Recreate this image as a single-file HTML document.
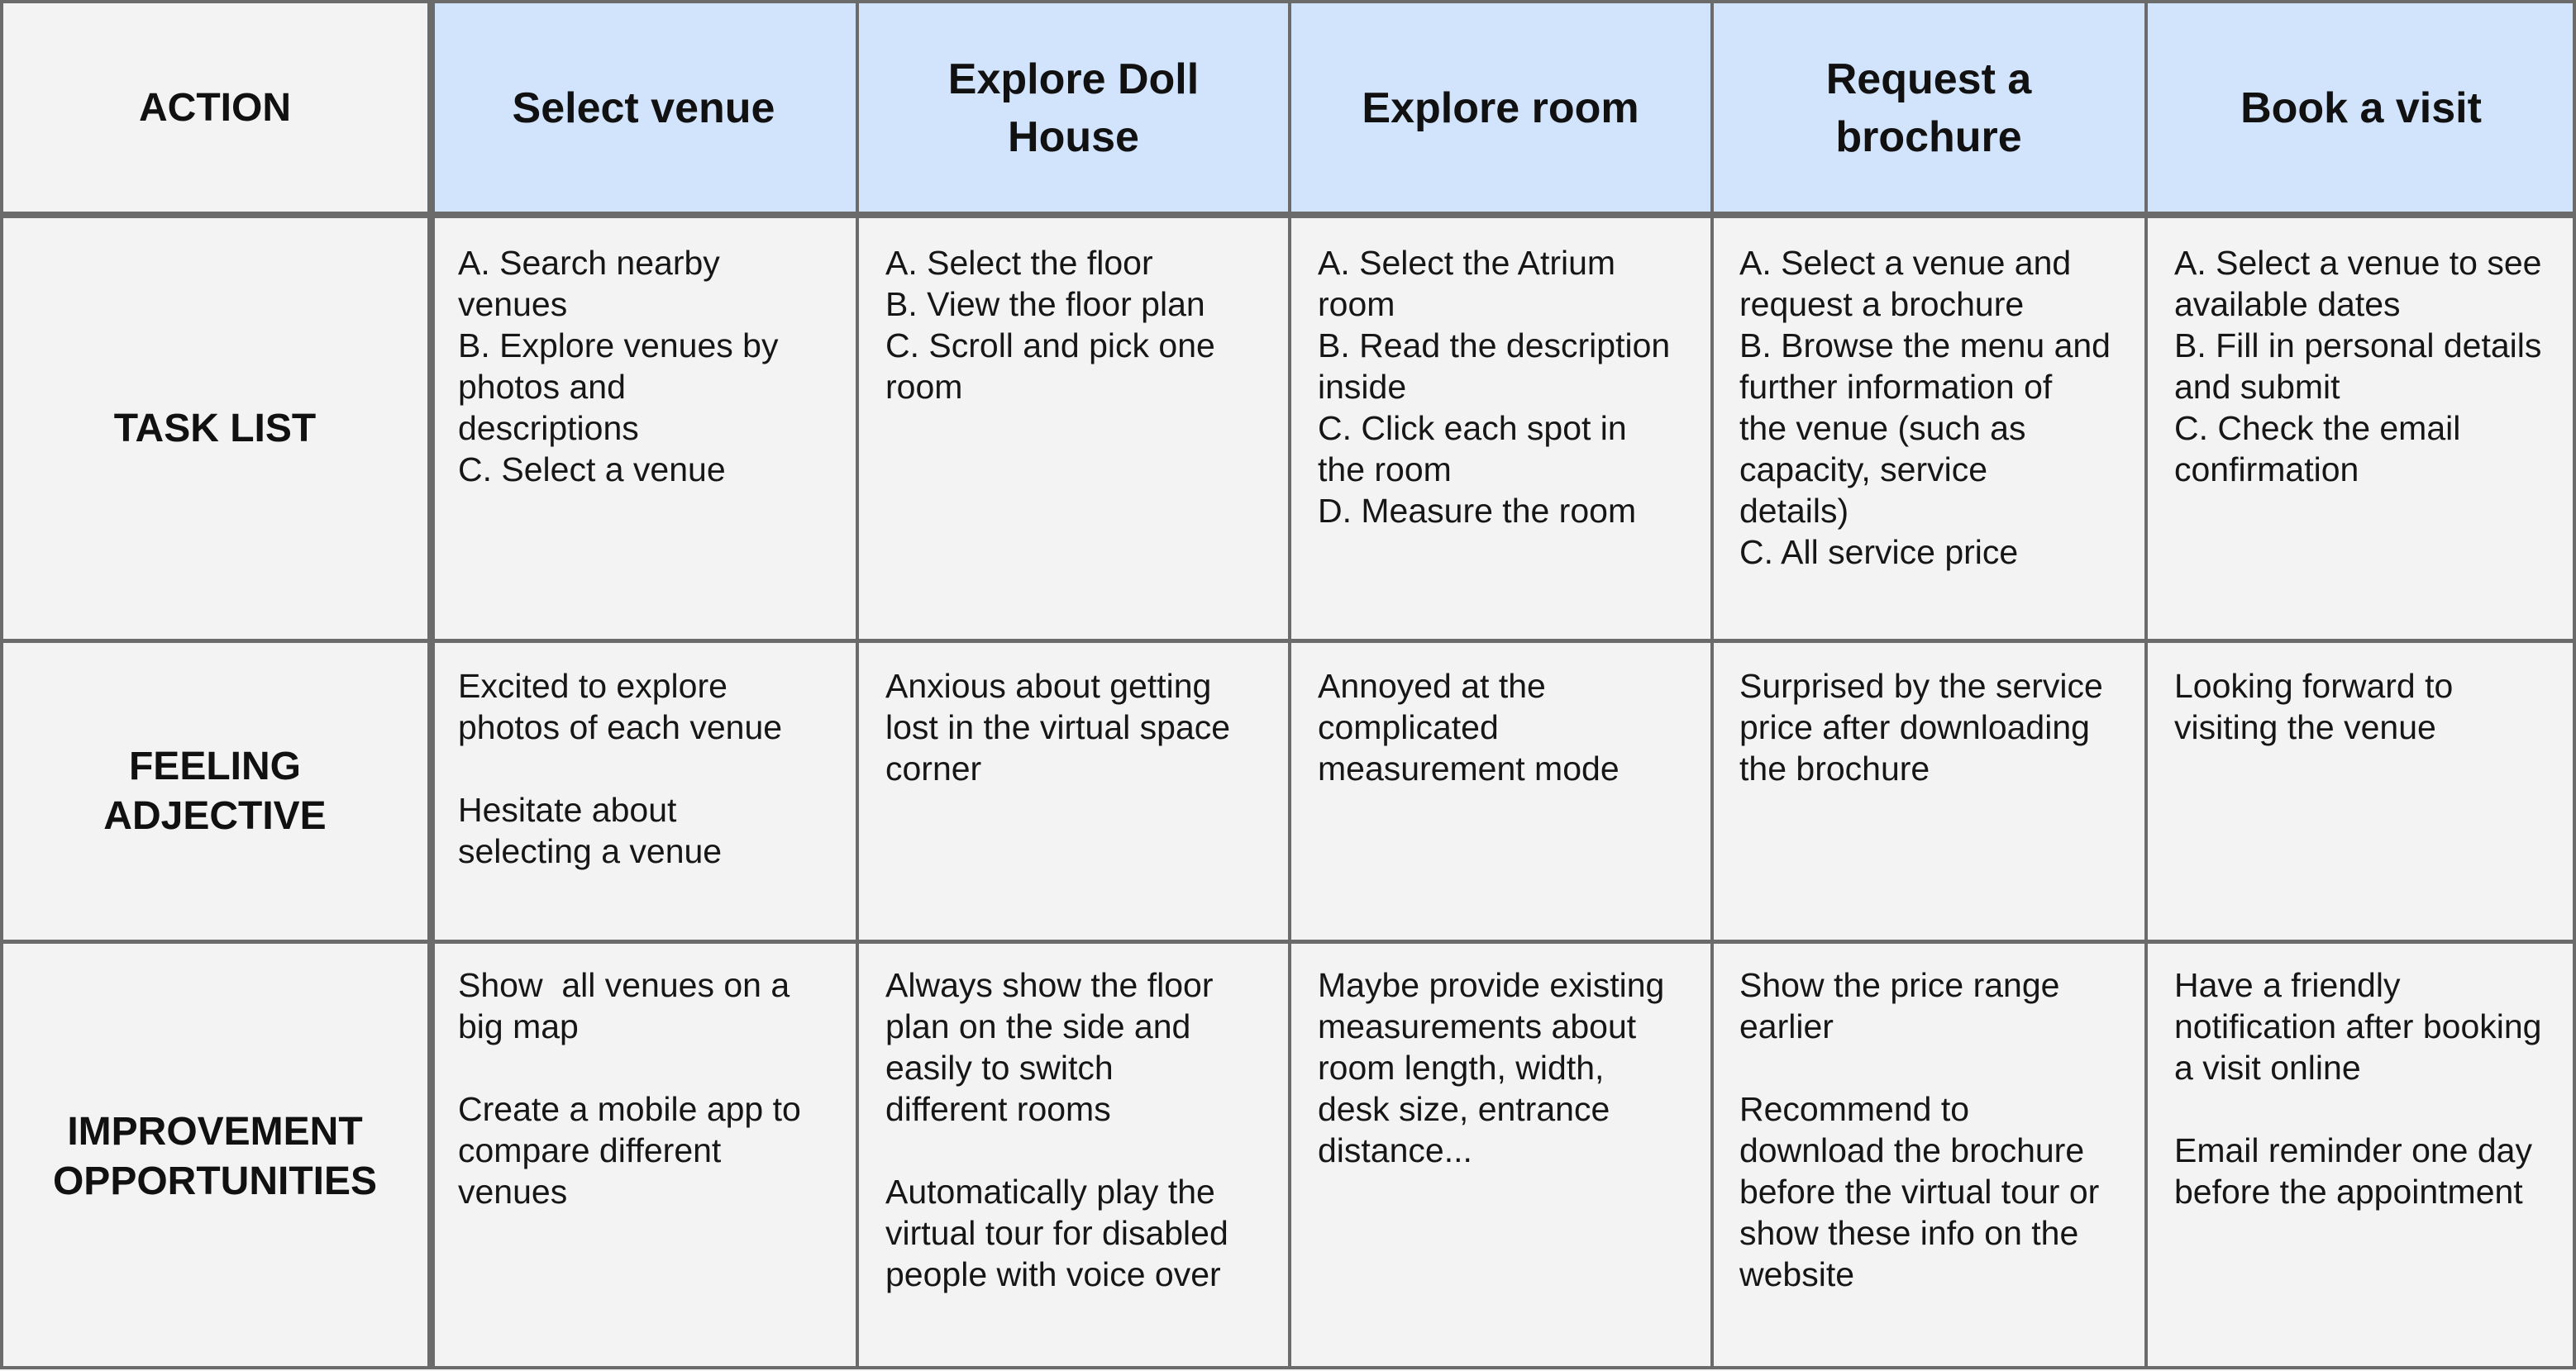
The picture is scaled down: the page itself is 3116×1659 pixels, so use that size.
<!DOCTYPE html>
<html><head><meta charset="utf-8"><style>
body{margin:0;width:3116px;height:1659px;background:#fff;position:relative;overflow:hidden;font-family:"Liberation Sans",sans-serif;}
.c{position:absolute;box-sizing:border-box;background:#f3f3f3;}
.h{background:#d2e3fc;display:flex;align-items:center;justify-content:center;text-align:center;font-weight:bold;font-size:52px;line-height:70px;color:#111;}
.l{display:flex;align-items:center;justify-content:center;text-align:center;font-weight:bold;font-size:48px;line-height:60px;color:#111;}
.t{font-size:41px;line-height:50px;color:#161616;padding:31px 40px 0 34px;}
.p1{padding-right:55px;}
.p2{padding-right:60px;}
.v{position:absolute;background:#6b6b6b;}
</style></head><body>
<div class="c l" style="left:0;top:0;width:520px;height:262px;">ACTION</div>
<div class="c h" style="left:520px;top:0;width:517px;height:262px;">Select venue</div>
<div class="c h" style="left:1037px;top:0;width:523px;height:262px;">Explore Doll<br>House</div>
<div class="c h" style="left:1560px;top:0;width:510px;height:262px;">Explore room</div>
<div class="c h" style="left:2070px;top:0;width:526px;height:262px;">Request a<br>brochure</div>
<div class="c h" style="left:2596px;top:0;width:520px;height:262px;">Book a visit</div>

<div class="c l" style="left:0;top:262px;width:520px;height:514px;">TASK LIST</div>
<div class="c t p1" style="left:520px;top:262px;width:517px;height:514px;">A. Search nearby venues<br>B. Explore venues by photos and descriptions<br>C. Select a venue</div>
<div class="c t p2" style="left:1037px;top:262px;width:523px;height:514px;">A. Select the floor<br>B. View the floor plan<br>C. Scroll and pick one room</div>
<div class="c t" style="left:1560px;top:262px;width:510px;height:514px;">A. Select the Atrium room<br>B. Read the description inside<br>C. Click each spot in the room<br>D. Measure the room</div>
<div class="c t" style="left:2070px;top:262px;width:526px;height:514px;white-space:nowrap;">A. Select a venue and<br>request a brochure<br>B. Browse the menu and<br>further information of<br>the venue (such as<br>capacity, service<br>details)<br>C. All service price</div>
<div class="c t" style="left:2596px;top:262px;width:520px;height:514px;">A. Select a venue to see available dates<br>B. Fill in personal details and submit<br>C. Check the email confirmation</div>

<div class="c l" style="left:0;top:776px;width:520px;height:364px;">FEELING<br>ADJECTIVE</div>
<div class="c t p1" style="left:520px;top:776px;width:517px;height:364px;padding-top:29px;">Excited to explore photos of each venue<br><br>Hesitate about selecting a venue</div>
<div class="c t p2" style="left:1037px;top:776px;width:523px;height:364px;padding-top:29px;">Anxious about getting lost in the virtual space corner</div>
<div class="c t" style="left:1560px;top:776px;width:510px;height:364px;padding-top:29px;">Annoyed at the complicated measurement mode</div>
<div class="c t" style="left:2070px;top:776px;width:526px;height:364px;padding-top:29px;">Surprised by the service price after downloading the brochure</div>
<div class="c t" style="left:2596px;top:776px;width:520px;height:364px;padding-top:29px;">Looking forward to visiting the venue</div>

<div class="c l" style="left:0;top:1140px;width:520px;height:519px;">IMPROVEMENT<br>OPPORTUNITIES</div>
<div class="c t p1" style="left:520px;top:1140px;width:517px;height:519px;padding-top:27px;">Show&nbsp; all venues on a big map<br><br>Create a mobile app to compare different venues</div>
<div class="c t p2" style="left:1037px;top:1140px;width:523px;height:519px;padding-top:27px;">Always show the floor plan on the side and easily to switch different rooms<br><br>Automatically play the virtual tour for disabled people with voice over</div>
<div class="c t" style="left:1560px;top:1140px;width:510px;height:519px;padding-top:27px;">Maybe provide existing measurements about room length, width, desk size, entrance distance...</div>
<div class="c t" style="left:2070px;top:1140px;width:526px;height:519px;padding-top:27px;">Show the price range earlier<br><br>Recommend to download the brochure before the virtual tour or show these info on the website</div>
<div class="c t" style="left:2596px;top:1140px;width:520px;height:519px;padding-top:27px;">Have a friendly notification after booking a visit online<br><br>Email reminder one day before the appointment</div>

<div class="v" style="left:0;top:0;width:3116px;height:4px;"></div>
<div class="v" style="left:0;top:256px;width:3116px;height:8px;"></div>
<div class="v" style="left:0;top:773px;width:3116px;height:5px;"></div>
<div class="v" style="left:0;top:1137px;width:3116px;height:5px;"></div>
<div class="v" style="left:0;top:1653px;width:3116px;height:4px;"></div>
<div class="v" style="left:0;top:0;width:4px;height:1657px;"></div>
<div class="v" style="left:517px;top:0;width:9px;height:1657px;"></div>
<div class="v" style="left:1035px;top:0;width:4px;height:1657px;"></div>
<div class="v" style="left:1558px;top:0;width:4px;height:1657px;"></div>
<div class="v" style="left:2069px;top:0;width:4px;height:1657px;"></div>
<div class="v" style="left:2594px;top:0;width:4px;height:1657px;"></div>
<div class="v" style="left:3112px;top:0;width:4px;height:1657px;"></div>
</body></html>
